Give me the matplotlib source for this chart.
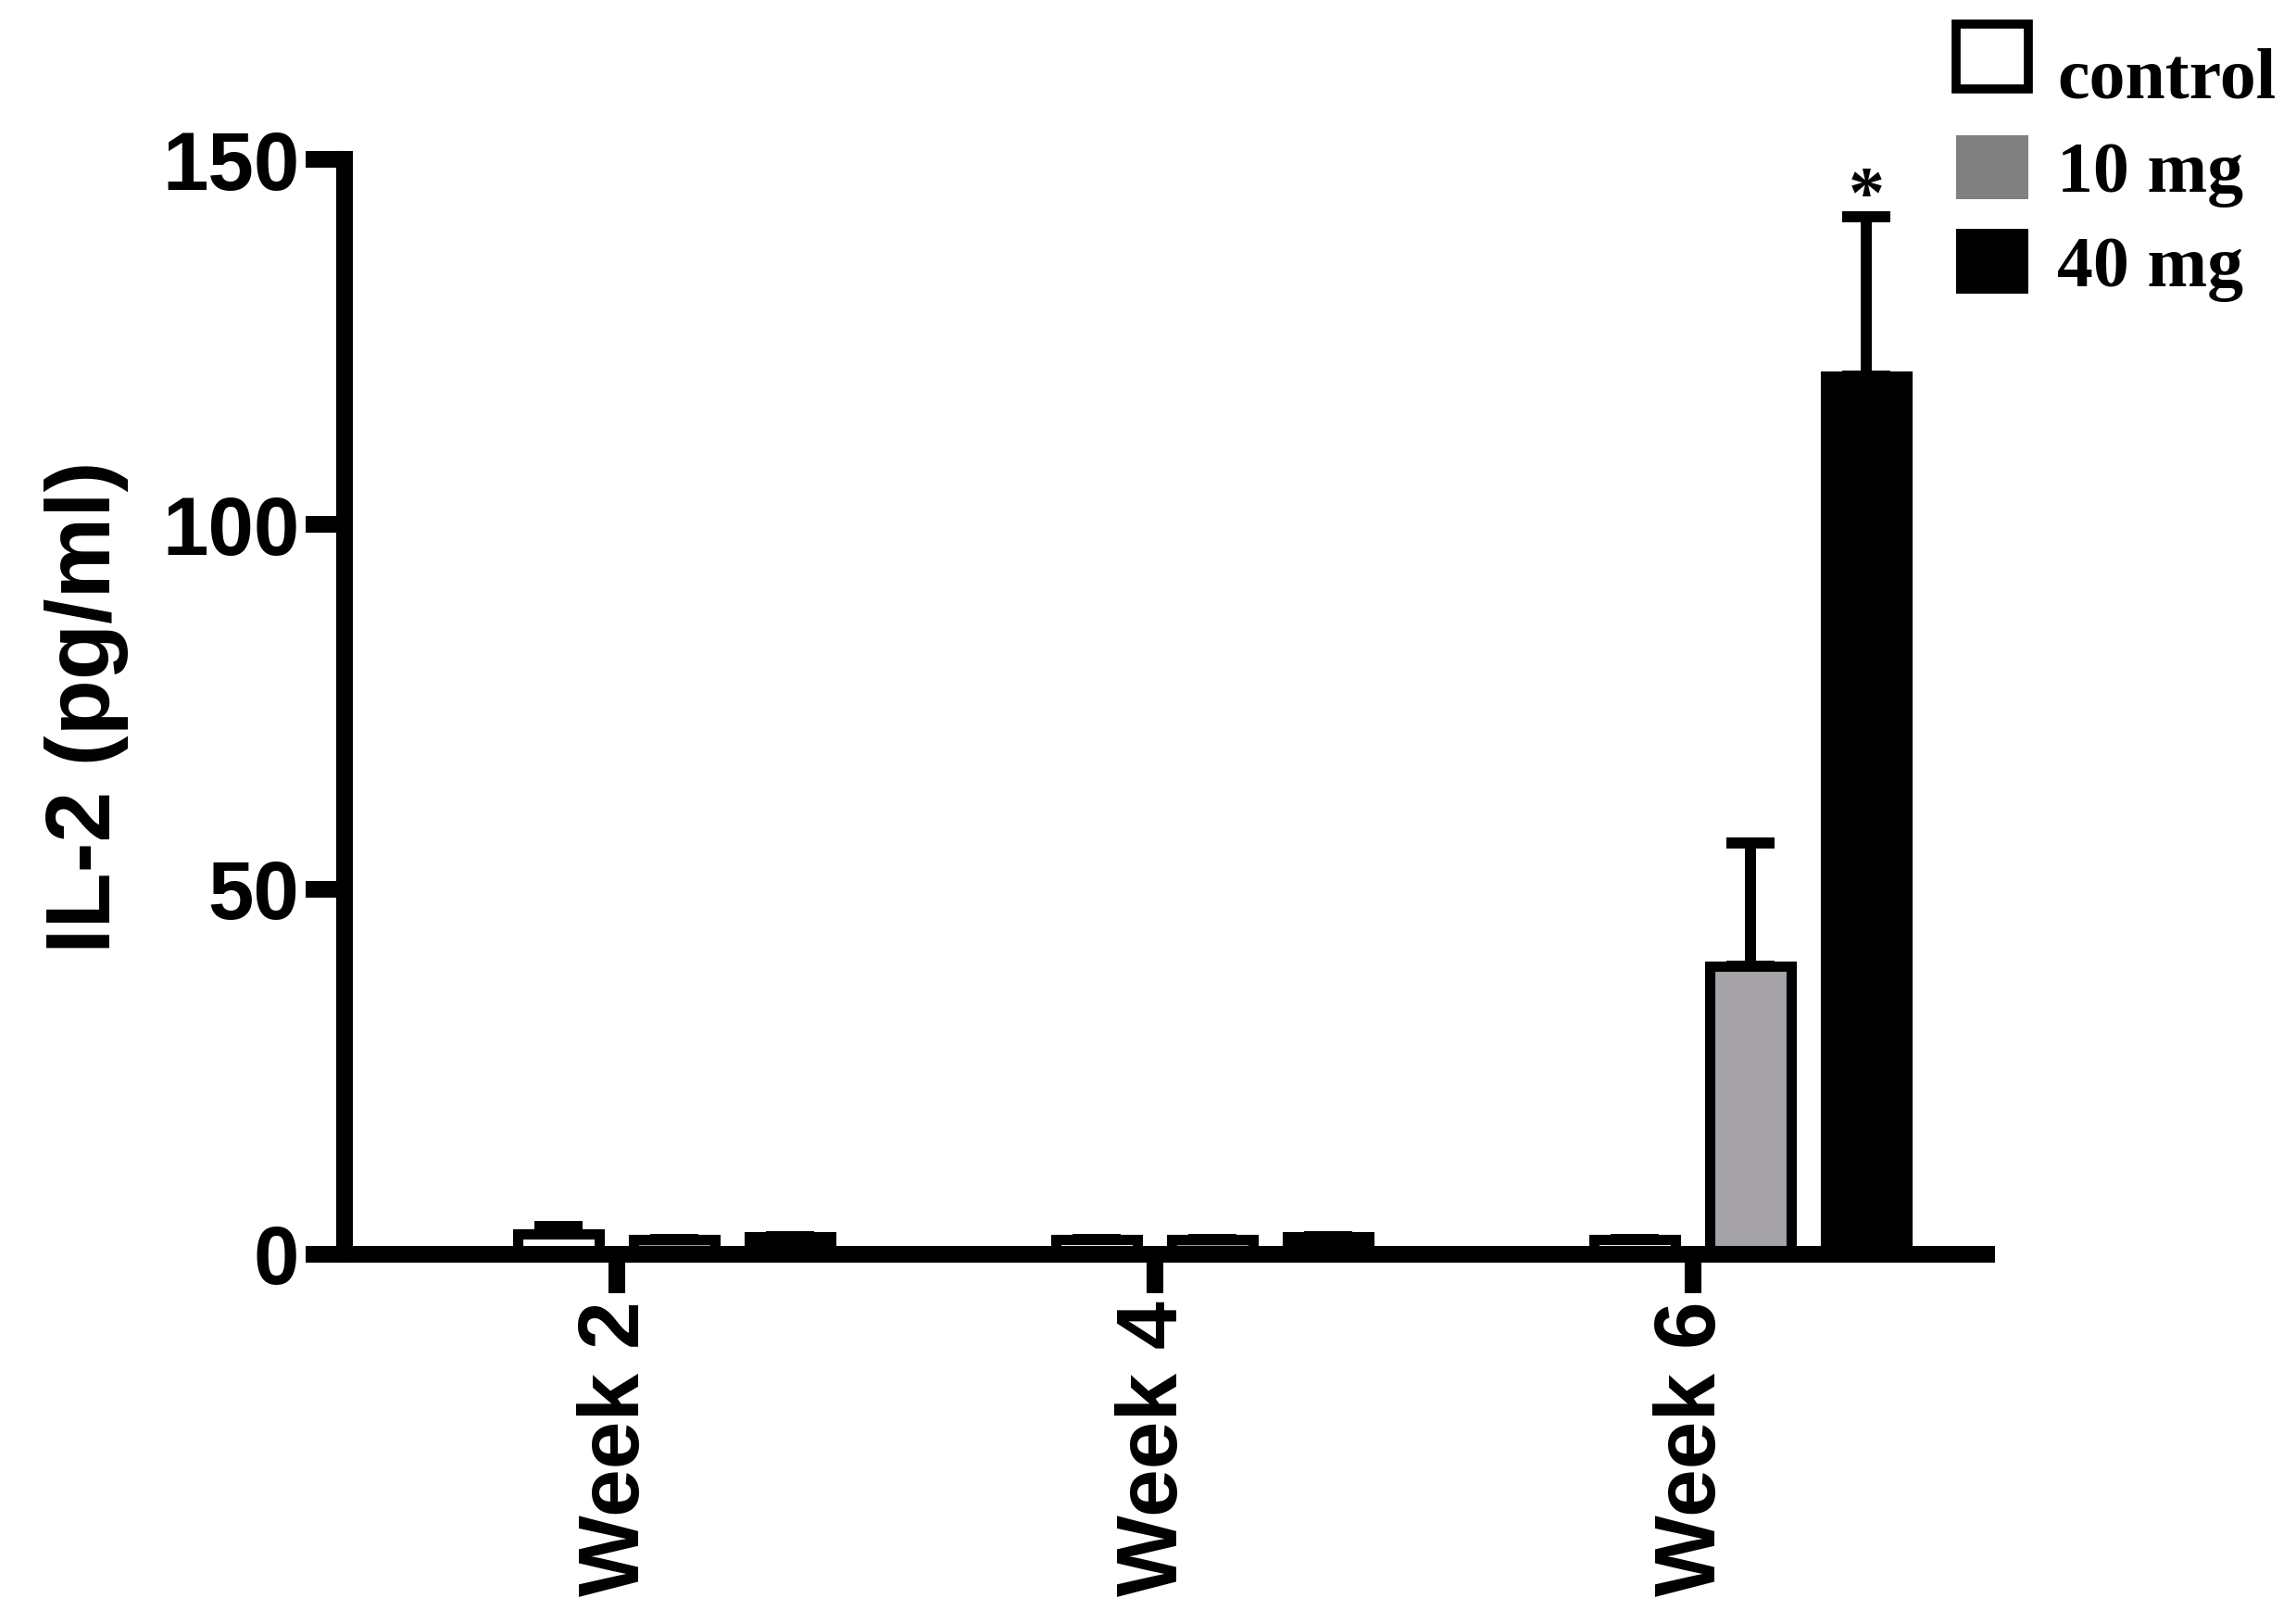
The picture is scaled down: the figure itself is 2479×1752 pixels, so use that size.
import numpy as np
import matplotlib
matplotlib.use("Agg")
import matplotlib.pyplot as plt
from matplotlib.patches import Patch, Rectangle
from matplotlib.legend_handler import HandlerPatch

# data
weeks = ["Week 2", "Week 4", "Week 6"]
groups = ["control", "10 mg", "40 mg"]
control = [2.8, 2.0, 2.0]
mg10 = [2.0, 2.0, 39.5]
mg40 = [2.4, 2.4, 120.3]
err_control = [1.0, 0.0, 0.0]
err_mg10 = [0.0, 0.0, 16.8]
err_mg40 = [0.0, 0.0, 21.8]
yticks = [0, 50, 100, 150]

plt.rcParams['font.family'] = ['Liberation Sans', 'DejaVu Sans']
plt.rcParams['font.weight'] = 'bold'

fig = plt.figure(figsize=(24.79, 17.52), dpi=100)
ax = fig.add_axes([0.150, 0.2272, 0.7153, 0.6746])

x = np.arange(len(weeks))
offsets = [-0.108, 0.107, 0.322]
width = 0.152
faces = ['white', '#a5a3a8', 'black']
series = [control, mg10, mg40]
errs = [err_control, err_mg10, err_mg40]

for off, vals, err, fc in zip(offsets, series, errs, faces):
    xs = x + off
    # upward-only error bars, drawn behind the bars
    ax.errorbar(xs, vals, yerr=[np.zeros(len(err)), err], fmt='none',
                ecolor='black', elinewidth=8.6, capsize=19, capthick=8.6, zorder=1)
    ax.bar(xs, vals, width=width, color=fc, edgecolor='black', linewidth=8, zorder=2)

# significance mark over the 40 mg week 6 bar
ax.text(x[2] + offsets[2], mg40[2] + err_mg40[2] + 2.5, '*', ha='center', va='center',
        fontsize=56, fontweight='bold', family='Liberation Serif')

ax.set_xlim(-0.506, 2.546)
ax.set_ylim(0, 150)
ax.set_yticks(yticks)
ax.set_xticks(x)
ax.set_xticklabels(weeks, rotation=90, fontsize=67, fontweight='bold')
ax.set_yticklabels([str(t) for t in yticks], fontsize=64, fontweight='bold')
ax.set_ylabel('IL-2 (pg/ml)', fontsize=71, fontweight='bold', labelpad=26)

for s in ['top', 'right']:
    ax.spines[s].set_visible(False)
for s in ['left', 'bottom']:
    ax.spines[s].set_linewidth(13)
    ax.spines[s].set_capstyle('projecting')
ax.tick_params(axis='both', length=30, width=13)
ax.tick_params(axis='x', pad=6)
ax.tick_params(axis='y', pad=5)


def raised_box(legend, orig_handle, xdescent, ydescent, width, height, fontsize):
    # the control square sits a little above its text in the original
    return Rectangle((-xdescent, -ydescent + 0.25 * height), width, height)


handles = [Patch(facecolor='white', edgecolor='black', linewidth=7),
           Patch(facecolor='#808080', edgecolor='#808080', linewidth=0),
           Patch(facecolor='black', edgecolor='black', linewidth=0)]
ax.legend(handles, groups, loc='upper left', bbox_to_anchor=(0.852, 0.975),
          bbox_transform=fig.transFigure, frameon=False,
          prop={'family': 'Liberation Serif', 'weight': 'bold', 'size': 56},
          handlelength=1.0, handleheight=1.0, handletextpad=0.4,
          labelspacing=0.3, borderpad=0, borderaxespad=0,
          handler_map={handles[0]: HandlerPatch(patch_func=raised_box)})

fig.savefig('out.png', dpi=100, facecolor='white')
